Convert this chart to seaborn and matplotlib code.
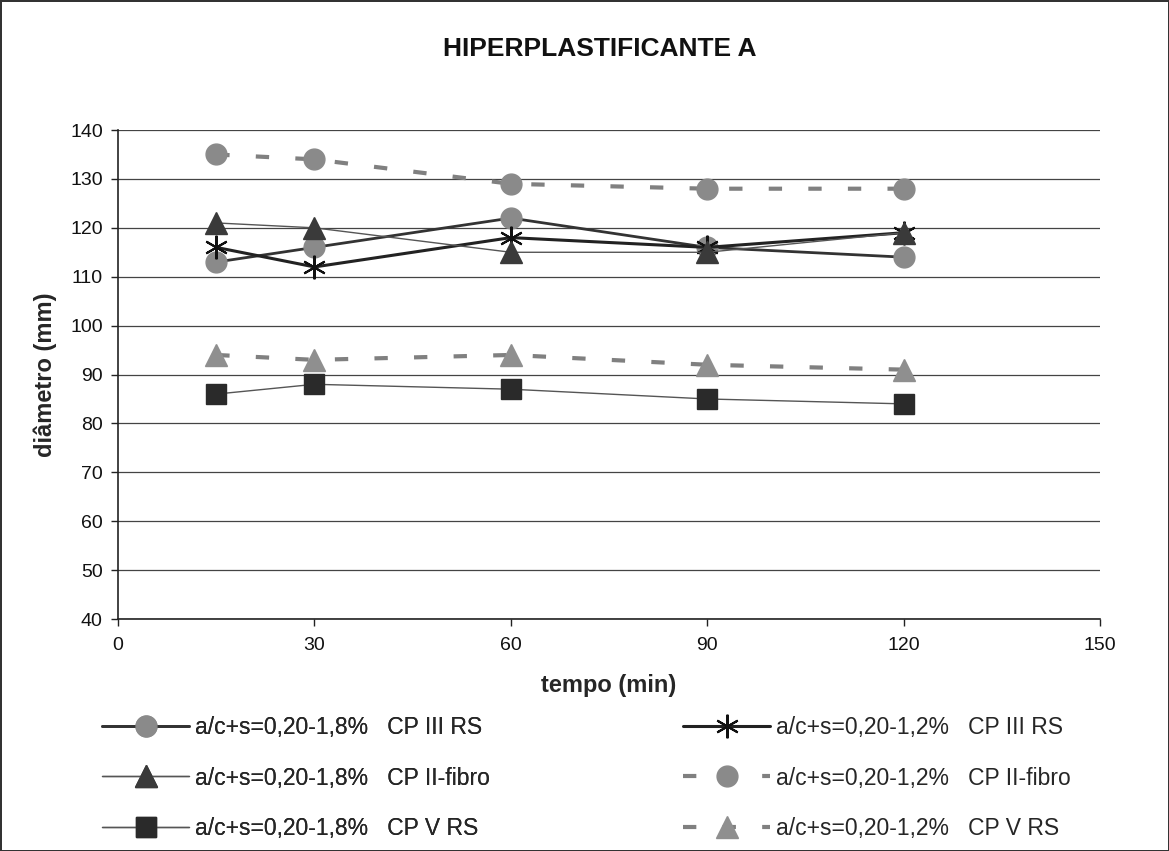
import matplotlib
matplotlib.use("Agg")
import matplotlib.pyplot as plt
import seaborn as sns
import pandas as pd

sns.set_theme(style="white")
plt.rcParams['font.family'] = ['Liberation Sans', 'DejaVu Sans']

tempo = [15, 30, 60, 90, 120]
s18_cp3 = [113, 116, 122, 116, 114]
s12_cp3 = [116, 112, 118, 116, 119]
s18_cp2 = [121, 120, 115, 115, 119]
s12_cp2 = [135, 134, 129, 128, 128]
s18_cp5 = [86, 88, 87, 85, 84]
s12_cp5 = [94, 93, 94, 92, 91]

labels = [
    "a/c+s=0,20-1,8%   CP III RS",
    "a/c+s=0,20-1,2%   CP III RS",
    "a/c+s=0,20-1,8%   CP II-fibro",
    "a/c+s=0,20-1,2%   CP II-fibro",
    "a/c+s=0,20-1,8%   CP V RS",
    "a/c+s=0,20-1,2%   CP V RS",
]
series = [s18_cp3, s12_cp3, s18_cp2, s12_cp2, s18_cp5, s12_cp5]

dash = (0, (3.2, 6.3))
styles = [
    dict(color="#333333", lw=2.0, ls="-", marker="o", ms=15, mfc="#8a8a8a", mec="#8a8a8a"),
    dict(color="#222222", lw=2.2, ls="-", marker=(6, 2, 0), ms=17, mfc="#111111", mec="#111111", mew=1.5),
    dict(color="#555555", lw=1.0, ls="-", marker="^", ms=16, mfc="#3a3a3a", mec="#3a3a3a"),
    dict(color="#808080", lw=3.0, ls=dash, marker="o", ms=15, mfc="#8a8a8a", mec="#8a8a8a"),
    dict(color="#555555", lw=1.0, ls="-", marker="s", ms=14, mfc="#2a2a2a", mec="#2a2a2a"),
    dict(color="#808080", lw=3.0, ls=dash, marker="^", ms=16, mfc="#8f8f8f", mec="#8f8f8f"),
]

fig = plt.figure(figsize=(11.69, 8.51), dpi=100)
fig.patch.set_edgecolor("#333333")
fig.patch.set_linewidth(2)
ax = fig.add_axes([0.101, 0.2726, 0.840, 0.5746])

handles = []
for vals, lab, st in zip(series, labels, styles):
    df = pd.DataFrame({"tempo": tempo, "d": vals})
    sns.lineplot(data=df, x="tempo", y="d", ax=ax, color=st["color"],
                 linewidth=st["lw"], linestyle=st["ls"], marker=st["marker"],
                 markersize=st["ms"], markerfacecolor=st["mfc"],
                 markeredgecolor=st["mec"], markeredgewidth=st.get("mew", 1),
                 label=lab, legend=False)
    handles.append(ax.get_lines()[-1])

ax.set_xlim(0, 150)
ax.set_ylim(40, 140)
ax.set_xticks([0, 30, 60, 90, 120, 150])
ax.set_yticks(range(40, 141, 10))
ax.yaxis.grid(True, color="#444444", lw=0.9)
ax.xaxis.grid(False)
for sp in ["top", "right"]:
    ax.spines[sp].set_visible(False)
for sp in ["left", "bottom"]:
    ax.spines[sp].set_color("#222222")
    ax.spines[sp].set_linewidth(1.2)
ax.tick_params(axis="both", direction="out", length=5, width=1, color="#222222",
               labelsize=14, labelcolor="#111111", bottom=True, left=True)
ax.tick_params(axis="x", pad=8)
ax.tick_params(axis="y", pad=6)
ax.set_xlabel("tempo (min)", fontsize=17, fontweight="bold", labelpad=14)
ax.set_ylabel("diâmetro (mm)", fontsize=17, fontweight="bold")
ax.yaxis.set_label_coords(-0.062, 0.5)

fig.text(0.513, 1 - 49 / 851, "HIPERPLASTIFICANTE A", ha="center", va="center",
         fontsize=19, fontweight="bold", color="#111111")

leg_kw = dict(frameon=False, fontsize=16.5, handlelength=3.8, labelspacing=1.2,
              handletextpad=0.25, borderpad=0, borderaxespad=0, loc="center left")
leg1 = fig.legend([handles[i] for i in (0, 2, 4)], [labels[i] for i in (0, 2, 4)],
                  bbox_to_anchor=(102 / 1169, 1 - 778 / 851), **leg_kw)
fig.add_artist(leg1)
fig.legend([handles[i] for i in (1, 3, 5)], [labels[i] for i in (1, 3, 5)],
           bbox_to_anchor=(683 / 1169, 1 - 778 / 851), **leg_kw)

fig.savefig("out.png", dpi=100, facecolor="white", edgecolor=fig.get_edgecolor())
